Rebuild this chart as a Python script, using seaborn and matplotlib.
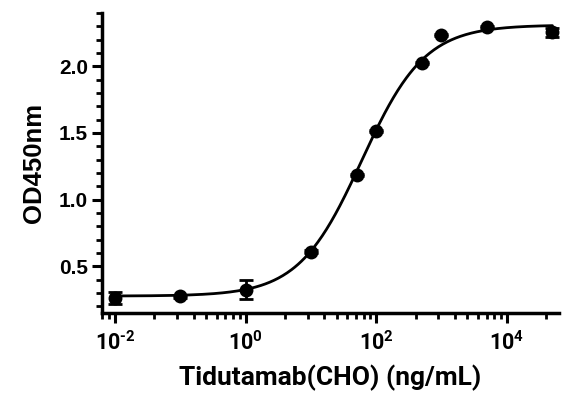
import numpy as np
import pandas as pd
import matplotlib
matplotlib.use("Agg")
import matplotlib.pyplot as plt
import matplotlib.ticker as mticker
import seaborn as sns

# Data
conc = [0.01, 0.1, 1, 10, 50, 100, 500, 1000, 5000, 50000]
od = [0.26, 0.275, 0.325, 0.61, 1.185, 1.515, 2.025, 2.235, 2.295, 2.255]
od_err = [0.045, 0.01, 0.07, 0.01, 0.01, 0.01, 0.01, 0.01, 0.01, 0.035]

# 4-parameter logistic fit parameters (bottom, top, EC50, Hill)
fit_bottom = 0.277
fit_top = 2.31
fit_ec50 = 60.0
fit_hill = 0.9

x_label = "Tidutamab(CHO) (ng/mL)"
y_label = "OD450nm"
y_ticks = [0.5, 1.0, 1.5, 2.0]
x_major = [1e-2, 1e0, 1e2, 1e4]

sns.set_theme(style="ticks")
plt.rcParams['font.family'] = ['Roboto', 'DejaVu Sans']
plt.rcParams['font.weight'] = 'bold'
plt.rcParams['text.color'] = 'black'
plt.rcParams['axes.labelcolor'] = 'black'
plt.rcParams['xtick.color'] = 'black'
plt.rcParams['ytick.color'] = 'black'
plt.rcParams['xtick.labelcolor'] = 'black'
plt.rcParams['ytick.labelcolor'] = 'black'
plt.rcParams['mathtext.fontset'] = 'custom'
plt.rcParams['mathtext.rm'] = 'Roboto:bold'
plt.rcParams['mathtext.bf'] = 'Roboto:bold'
plt.rcParams['mathtext.it'] = 'Roboto:bold'

fig = plt.figure(figsize=(5.71, 3.99), dpi=100)
ax = fig.add_axes([102/571, 1-313/399, (559-102)/571, (313-13)/399])

df = pd.DataFrame({"conc": conc, "od": od, "err": od_err})
xs = np.logspace(np.log10(conc[0]), np.log10(conc[-1]), 400)
ys = fit_bottom + (fit_top - fit_bottom) / (1 + (fit_ec50 / xs) ** fit_hill)
curve = pd.DataFrame({"x": xs, "y": ys})

sns.lineplot(data=curve, x="x", y="y", ax=ax, color="black", linewidth=2.0)
ax.errorbar(df["conc"], df["od"], yerr=df["err"], fmt="none", ecolor="black",
            elinewidth=2, capsize=5, capthick=2)
sns.scatterplot(data=df, x="conc", y="od", ax=ax, color="black", s=100,
                edgecolor="black", linewidth=0, zorder=5)

ax.set_xscale("log")
ax.set_xlim(10**-2.2, 10**4.8)
ax.set_ylim(0.15, 2.4)

ax.xaxis.set_major_locator(mticker.FixedLocator(x_major))
minor = []
for m in [-4, -2, 0, 2, 4]:
    for k in range(2, 10):
        minor.append(10 ** (m + 2 * np.log10(k)))
ax.xaxis.set_minor_locator(mticker.FixedLocator(minor))
ax.xaxis.set_major_formatter(mticker.FuncFormatter(
    lambda v, p: r"$\mathrm{10}^{\text{%d}}$" % int(round(np.log10(v)))))
ax.xaxis.set_minor_formatter(mticker.NullFormatter())

ax.yaxis.set_major_locator(mticker.FixedLocator(y_ticks))
ax.yaxis.set_minor_locator(mticker.MultipleLocator(0.1))
ax.yaxis.set_major_formatter(mticker.FormatStrFormatter("%.1f"))

for s in ["top", "right"]:
    ax.spines[s].set_visible(False)
for s in ["left", "bottom"]:
    ax.spines[s].set_linewidth(2.5)
    ax.spines[s].set_color("black")

ax.tick_params(axis="both", which="major", length=7, width=2.2, color="black",
               labelcolor="black", pad=3)
ax.tick_params(axis="both", which="minor", length=4, width=2, color="black")
ax.tick_params(axis="x", which="major", labelsize=15.5, pad=6)
ax.tick_params(axis="y", which="major", labelsize=15)
for lab in ax.get_yticklabels():
    lab.set_fontweight("bold")
    lab.set_fontfamily(["Liberation Sans", "DejaVu Sans"])

ax.set_xlabel(x_label, fontsize=19, fontweight="bold", labelpad=7, color="black")
ax.set_ylabel(y_label, fontsize=18.5, fontweight="bold", labelpad=9, color="black",
              fontfamily=["Liberation Sans", "DejaVu Sans"])

fig.savefig("out.png", dpi=100)
